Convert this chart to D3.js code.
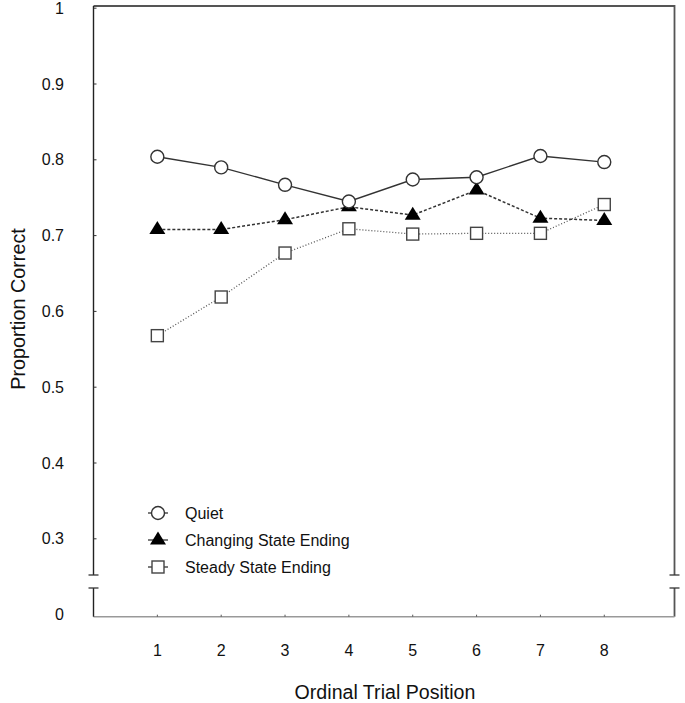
<!DOCTYPE html>
<html><head><meta charset="utf-8">
<script src="https://cdn.jsdelivr.net/npm/d3@7"></script>
<style>body{margin:0;background:#fff}svg{display:block;font-family:"Liberation Sans",Arial,sans-serif}</style>
</head><body><svg id="c" width="685" height="703"></svg>
<script>
const positions = [1,2,3,4,5,6,7,8];
const quiet    = [0.804,0.790,0.767,0.745,0.774,0.777,0.805,0.797];
const changing = [0.708,0.708,0.721,0.738,0.727,0.760,0.723,0.720];
const steady   = [0.568,0.619,0.677,0.709,0.702,0.703,0.703,0.741];
const yTicks = [0.3,0.4,0.5,0.6,0.7,0.8,0.9,1];
const seriesNames = ["Quiet","Changing State Ending","Steady State Ending"];

const svg = d3.select("#c");
const x = d3.scaleLinear().domain([0,9.1]).range([93.5,674.5]);
const y = d3.scaleLinear().domain([0.3,1]).range([538.8,8.2]);
const yZero = 616.7, breakTop = 575, breakBot = 588;

// frame top/right
svg.append("line").attr("x1",x(0)).attr("x2",x.range()[1]).attr("y1",6).attr("y2",6).attr("stroke","#555").attr("stroke-width",1.8);
const rx = x.range()[1];
svg.append("line").attr("x1",rx).attr("x2",rx).attr("y1",5.1).attr("y2",breakTop).attr("stroke","#555").attr("stroke-width",1.8);
svg.append("line").attr("x1",rx).attr("x2",rx).attr("y1",breakBot).attr("y2",yZero).attr("stroke","#555").attr("stroke-width",1.8);
// bottom axis
svg.append("line").attr("x1",x(0)).attr("x2",rx).attr("y1",yZero).attr("y2",yZero).attr("stroke","#999").attr("stroke-width",1.5);
// left axis
const lx = x(0);
svg.append("line").attr("x1",lx).attr("x2",lx).attr("y1",6).attr("y2",breakTop).attr("stroke","#222").attr("stroke-width",1.4);
svg.append("line").attr("x1",lx).attr("x2",lx).attr("y1",breakBot).attr("y2",yZero).attr("stroke","#222").attr("stroke-width",1.4);
// break caps
[lx,rx].forEach(cx=>{
  [breakTop,breakBot].forEach(cy=>{
    svg.append("line").attr("x1",cx-5).attr("x2",cx+5).attr("y1",cy).attr("y2",cy).attr("stroke","#333").attr("stroke-width",1.3);
  });
});
// y ticks and labels
const yAxisG = svg.append("g");
yTicks.forEach(t=>{
  yAxisG.append("line").attr("x1",lx).attr("x2",lx+3).attr("y1",y(t)).attr("y2",y(t)).attr("stroke","#333");
  yAxisG.append("text").attr("x",64).attr("y",y(t)).attr("dy","0.35em").attr("text-anchor","end")
    .attr("font-size",16).attr("fill","#111").text(d3.format("")(t));
});
yAxisG.append("text").attr("x",64).attr("y",yZero-2).attr("dy","0.35em").attr("text-anchor","end").attr("font-size",16).attr("fill","#111").text("0");
// x ticks and labels
positions.forEach(p=>{
  svg.append("line").attr("x1",x(p)).attr("x2",x(p)).attr("y1",yZero).attr("y2",yZero-2).attr("stroke","#555");
  svg.append("text").attr("x",x(p)).attr("y",650).attr("dy","0.35em").attr("text-anchor","middle").attr("font-size",16).attr("fill","#111").text(p);
});
// axis titles
svg.append("text").attr("x",385).attr("y",692).attr("dy","0.35em").attr("text-anchor","middle").attr("font-size",19.6).attr("fill","#111").text("Ordinal Trial Position");
svg.append("text").attr("transform","translate(18,309) rotate(-90)").attr("dy","0.35em").attr("text-anchor","middle").attr("font-size",19.8).attr("fill","#111").text("Proportion Correct");

// lines
const line = d3.line().x((d,i)=>x(positions[i])).y(d=>y(d));
svg.append("path").datum(steady).attr("d",line).attr("fill","none").attr("stroke","#555").attr("stroke-width",1.3).attr("stroke-dasharray","1,2");
svg.append("path").datum(changing).attr("d",line).attr("fill","none").attr("stroke","#333").attr("stroke-width",1.5).attr("stroke-dasharray","3,2");
svg.append("path").datum(quiet).attr("d",line).attr("fill","none").attr("stroke","#333").attr("stroke-width",1.4);

function tri(g,cx,cy){ g.append("path").attr("d",`M${cx},${cy-8.5}L${cx+8},${cy+4.5}L${cx-8},${cy+4.5}Z`).attr("fill","#000"); }
function sq(g,cx,cy){ g.append("rect").attr("x",cx-6).attr("y",cy-6).attr("width",12).attr("height",12).attr("fill","#fff").attr("stroke","#444").attr("stroke-width",1.4); }
function circ(g,cx,cy){ g.append("circle").attr("cx",cx).attr("cy",cy).attr("r",6.5).attr("fill","#fff").attr("stroke","#333").attr("stroke-width",1.4); }

const mg = svg.append("g");
steady.forEach((v,i)=>sq(mg,x(positions[i]),y(v)));
changing.forEach((v,i)=>tri(mg,x(positions[i]),y(v)));
quiet.forEach((v,i)=>circ(mg,x(positions[i]),y(v)));

// legend
const lg = svg.append("g");
const legY = [513,540,567];
const drawers = [circ,tri,sq];
legY.forEach((ly,i)=>{
  lg.append("line").attr("x1",148).attr("x2",168).attr("y1",ly).attr("y2",ly).attr("stroke","#333").attr("stroke-width",1.3);
  drawers[i](lg,158,ly);
  lg.append("text").attr("x",185).attr("y",ly).attr("dy","0.35em").attr("font-size",16).attr("fill","#111").text(seriesNames[i]);
});
</script></body></html>
